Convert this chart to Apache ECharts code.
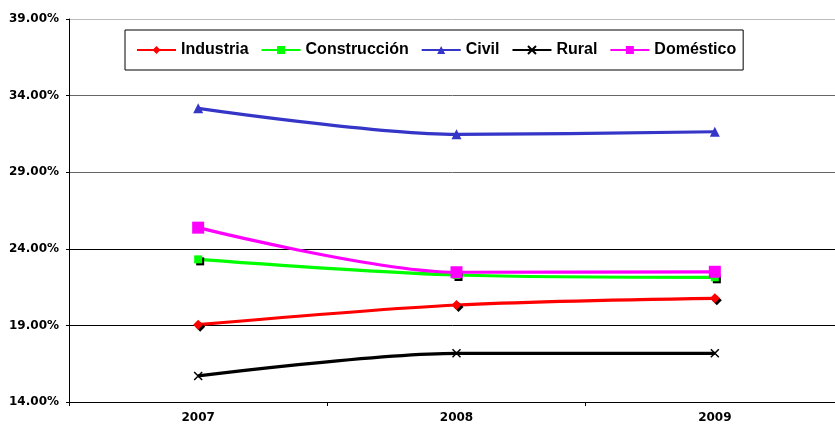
<!DOCTYPE html>
<html>
<head>
<meta charset="utf-8">
<script src="https://cdn.jsdelivr.net/npm/echarts@6/dist/echarts.min.js"></script>
<style>html,body{margin:0;padding:0;background:#fff;}#c{width:835px;height:426px;}</style>
</head>
<body>
<div id="c"></div>
<script>
const years = ['2007', '2008', '2009'];
const industria = [19.05, 20.33, 20.77];
const construccion = [23.31, 22.29, 22.14];
const civil = [33.17, 31.47, 31.64];
const rural = [15.70, 17.18, 17.18];
const domestico = [25.38, 22.47, 22.50];

const chart = echarts.init(document.getElementById('c'), null, {renderer: 'canvas'});
const markShadow = {shadowColor: '#000', shadowOffsetX: 2, shadowOffsetY: 2, shadowBlur: 0};
function line(name, data, color, symbol, size, extra) {
  return {
    name: name, type: 'line', data: data, smooth: 0.3,
    symbol: symbol, symbolSize: size,
    lineStyle: {color: color, width: 3.2},
    itemStyle: Object.assign({color: color}, extra || {}),
    emphasis: {disabled: true}, animation: false
  };
}
chart.setOption({
  animation: false,
  grid: {left: 69, top: 19, height: 383, width: 775, outerBoundsMode: 'none', containLabel: false},
  legend: {
    left: 125, top: 30,
    padding: [12, 7, 12, 11],
    borderColor: '#000', borderWidth: 1,
    itemWidth: 39, itemHeight: 10, itemGap: 12,
    textStyle: {fontFamily: 'Liberation Sans, Arial', fontWeight: 'bold', fontSize: 16, color: '#000'},
    itemStyle: {shadowColor: 'transparent', shadowOffsetX: 0, shadowOffsetY: 0, shadowBlur: 0},
    data: ['Industria', 'Construcción', 'Civil', 'Rural', 'Doméstico']
  },
  xAxis: {
    type: 'category', data: years, boundaryGap: true,
    axisLine: {lineStyle: {color: '#000', width: 1}},
    axisTick: {show: true, length: 4, lineStyle: {color: '#000'}},
    axisLabel: {margin: 10, fontFamily: 'DejaVu Sans', fontWeight: 'bold', fontSize: 12, color: '#000'},
    splitLine: {show: false}
  },
  yAxis: {
    type: 'value', min: 14, max: 39, interval: 5,
    axisLine: {show: true, lineStyle: {color: '#000', width: 1}},
    axisTick: {show: true, length: 3, lineStyle: {color: '#000'}},
    axisLabel: {margin: 10, fontFamily: 'DejaVu Sans', fontWeight: 'bold', fontSize: 12, color: '#000',
      formatter: v => v.toFixed(2) + '%'},
    splitLine: {show: true, lineStyle: {color: ['#000', '#000', '#000', '#666', '#666', '#bbb'], width: 1}}
  },
  series: [
    line('Industria', industria, '#ff0000', 'diamond', 10, markShadow),
    line('Construcción', construccion, '#00ff00', 'rect', 8, markShadow),
    line('Civil', civil, '#3535c8', 'triangle', 10),
    line('Rural', rural, '#000000', 'path://M0 0L10 10M10 0L0 10', 8, {color: 'none', borderColor: '#000', borderWidth: 1.5}),
    line('Doméstico', domestico, '#ff00ff', 'rect', 12)
  ]
});
</script>
</body>
</html>
